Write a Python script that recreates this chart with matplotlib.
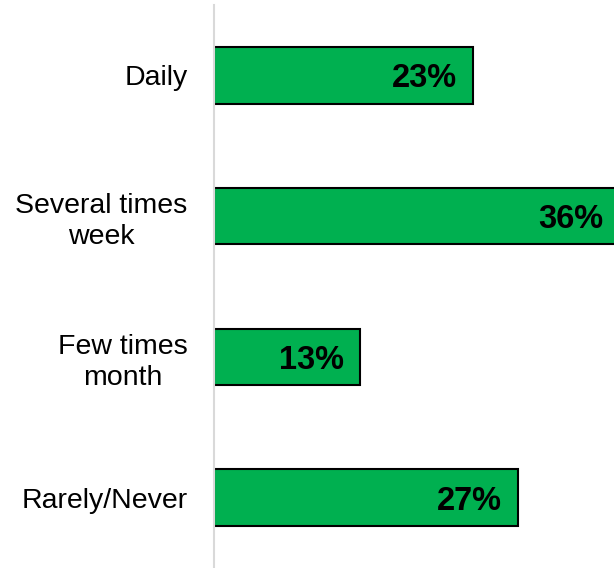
import matplotlib.pyplot as plt

plt.rcParams['font.family'] = ['Liberation Sans', 'DejaVu Sans']

categories = ['Daily', 'Several times\nweek', 'Few times\nmonth', 'Rarely/Never']
values = [23, 36, 13, 27]
labels = ['23%', '36%', '13%', '27%']

fig = plt.figure(figsize=(6.14, 5.68), dpi=100)
ax = fig.add_axes([214 / 614, 0, 400 / 614, 563 / 568])

ypos = list(range(len(categories)))
bars = ax.barh(ypos, values, height=0.40, color='#00B050', edgecolor='black', linewidth=1.5)

for b, lab in zip(bars, labels):
    ax.annotate(lab, xy=(b.get_width(), b.get_y() + b.get_height() / 2),
                xytext=(-11.5, -2.5), textcoords='offset points',
                ha='right', va='center', fontsize=23.5, fontweight='bold',
                annotation_clip=False)

ax.set_xlim(0, 35.55)
ax.set_ylim(3.5, -0.5)
ax.set_yticks(ypos)
ax.set_yticklabels(categories, fontsize=20.5, multialignment='center', linespacing=1.25)
ax.tick_params(axis='y', length=0, pad=19)
ax.set_xticks([])
for s in ['top', 'right', 'bottom']:
    ax.spines[s].set_visible(False)
ax.spines['left'].set_color('#D9D9D9')
ax.spines['left'].set_linewidth(1.5)

fig.savefig('out.png', dpi=100)
